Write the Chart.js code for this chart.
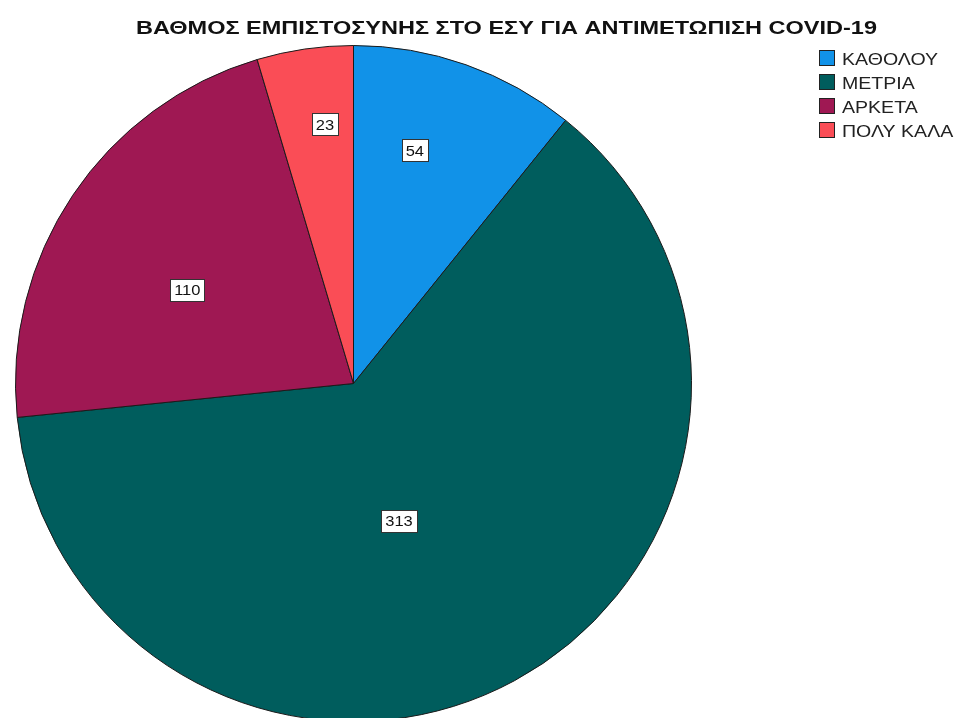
<!DOCTYPE html>
<html>
<head>
<meta charset="utf-8">
<script src="https://cdn.jsdelivr.net/npm/chart.js@4/dist/chart.umd.min.js"></script>
<style>
  html, body { margin: 0; padding: 0; background: #ffffff; overflow: hidden; }
  #wrap { position: absolute; left: 0; top: 0; width: 960px; height: 730px; }
</style>
</head>
<body>
<div id="wrap"><canvas id="pie" width="960" height="730"></canvas></div>
<script>
// Trust in the national health system (ΕΣΥ) for handling COVID-19
const chartTitle = 'ΒΑΘΜΟΣ ΕΜΠΙΣΤΟΣΥΝΗΣ ΣΤΟ ΕΣΥ ΓΙΑ ΑΝΤΙΜΕΤΩΠΙΣΗ COVID-19';
const categories = ['ΚΑΘΟΛΟΥ', 'ΜΕΤΡΙΑ', 'ΑΡΚΕΤΑ', 'ΠΟΛΥ ΚΑΛΑ'];
const counts = [54, 313, 110, 23];
const sliceColors = ['#1192e8', '#005d5d', '#9f1853', '#fa4d56'];

// where each count label sits inside its slice: fraction of radius, angle shift (deg)
const labelPlacement = [
  { r: 0.713, shift: -4.7 },
  { r: 0.428, shift: 10.1 },
  { r: 0.564, shift: -4.5 },
  { r: 0.771, shift: 2.0 }
];

function stretchedText(ctx, txt, x, y, align, sx) {
  const w = ctx.measureText(txt).width * sx;
  let left = x;
  if (align === 'center') left = x - w / 2;
  else if (align === 'right') left = x - w;
  ctx.save();
  ctx.translate(left, y);
  ctx.scale(sx, 1);
  ctx.textAlign = 'left';
  ctx.fillText(txt, 0, 0);
  ctx.restore();
  return w;
}

const titlePlugin = {
  id: 'topTitle',
  afterDraw(chart) {
    const ctx = chart.ctx;
    ctx.save();
    ctx.font = 'bold 19px "Liberation Sans", Arial, sans-serif';
    ctx.fillStyle = '#111111';
    ctx.textBaseline = 'alphabetic';
    // title spans a fixed 741px band above the pie
    const sx = 741 / ctx.measureText(chartTitle).width;
    stretchedText(ctx, chartTitle, 506.5, 34, 'center', sx);
    ctx.restore();
  }
};

const sideLegend = {
  id: 'sideLegend',
  afterDraw(chart) {
    const ctx = chart.ctx;
    const ds = chart.data.datasets[0];
    ctx.save();
    ctx.font = '17px "Liberation Sans", Arial, sans-serif';
    ctx.textBaseline = 'alphabetic';
    chart.data.labels.forEach((lab, i) => {
      const top = 50 + i * 24;
      ctx.fillStyle = ds.backgroundColor[i];
      ctx.fillRect(819.5, top + 0.5, 15, 15);
      ctx.strokeStyle = '#222222';
      ctx.lineWidth = 1;
      ctx.strokeRect(819.5, top + 0.5, 15, 15);
      ctx.fillStyle = '#222222';
      stretchedText(ctx, lab, 842, top + 15, 'left', 1.15);
    });
    ctx.restore();
  }
};

const valueBoxes = {
  id: 'valueBoxes',
  afterDatasetsDraw(chart) {
    const ctx = chart.ctx;
    const meta = chart.getDatasetMeta(0);
    const values = chart.data.datasets[0].data;
    ctx.save();
    ctx.font = '15px "Liberation Sans", Arial, sans-serif';
    ctx.textBaseline = 'middle';
    meta.data.forEach((arc, i) => {
      const p = arc.getProps(['x', 'y', 'startAngle', 'endAngle', 'outerRadius'], true);
      const place = labelPlacement[i];
      const mid = (p.startAngle + p.endAngle) / 2 + place.shift * Math.PI / 180;
      const rr = p.outerRadius * place.r;
      const cx = p.x + Math.cos(mid) * rr;
      const cy = p.y + Math.sin(mid) * rr;
      const txt = String(values[i]);
      const w = Math.round(ctx.measureText(txt).width * 1.1 + 8);
      const h = 22;
      const bx = Math.round(cx - w / 2) + 0.5;
      const by = Math.round(cy - h / 2) + 0.5;
      ctx.fillStyle = '#ffffff';
      ctx.fillRect(bx, by, w, h);
      ctx.strokeStyle = '#333333';
      ctx.lineWidth = 1;
      ctx.strokeRect(bx, by, w, h);
      ctx.fillStyle = '#111111';
      stretchedText(ctx, txt, cx, cy + 1, 'center', 1.1);
    });
    ctx.restore();
  }
};

new Chart(document.getElementById('pie'), {
  type: 'pie',
  data: {
    labels: categories,
    datasets: [{
      data: counts,
      backgroundColor: sliceColors,
      borderColor: '#1a1a1a',
      borderWidth: 1
    }]
  },
  options: {
    responsive: false,
    animation: false,
    devicePixelRatio: 1,
    layout: { padding: { left: 15, top: 45, right: 268, bottom: 8 } },
    plugins: {
      legend: { display: false },
      tooltip: { enabled: false },
      title: { display: false }
    }
  },
  plugins: [titlePlugin, sideLegend, valueBoxes]
});
</script>
</body>
</html>
